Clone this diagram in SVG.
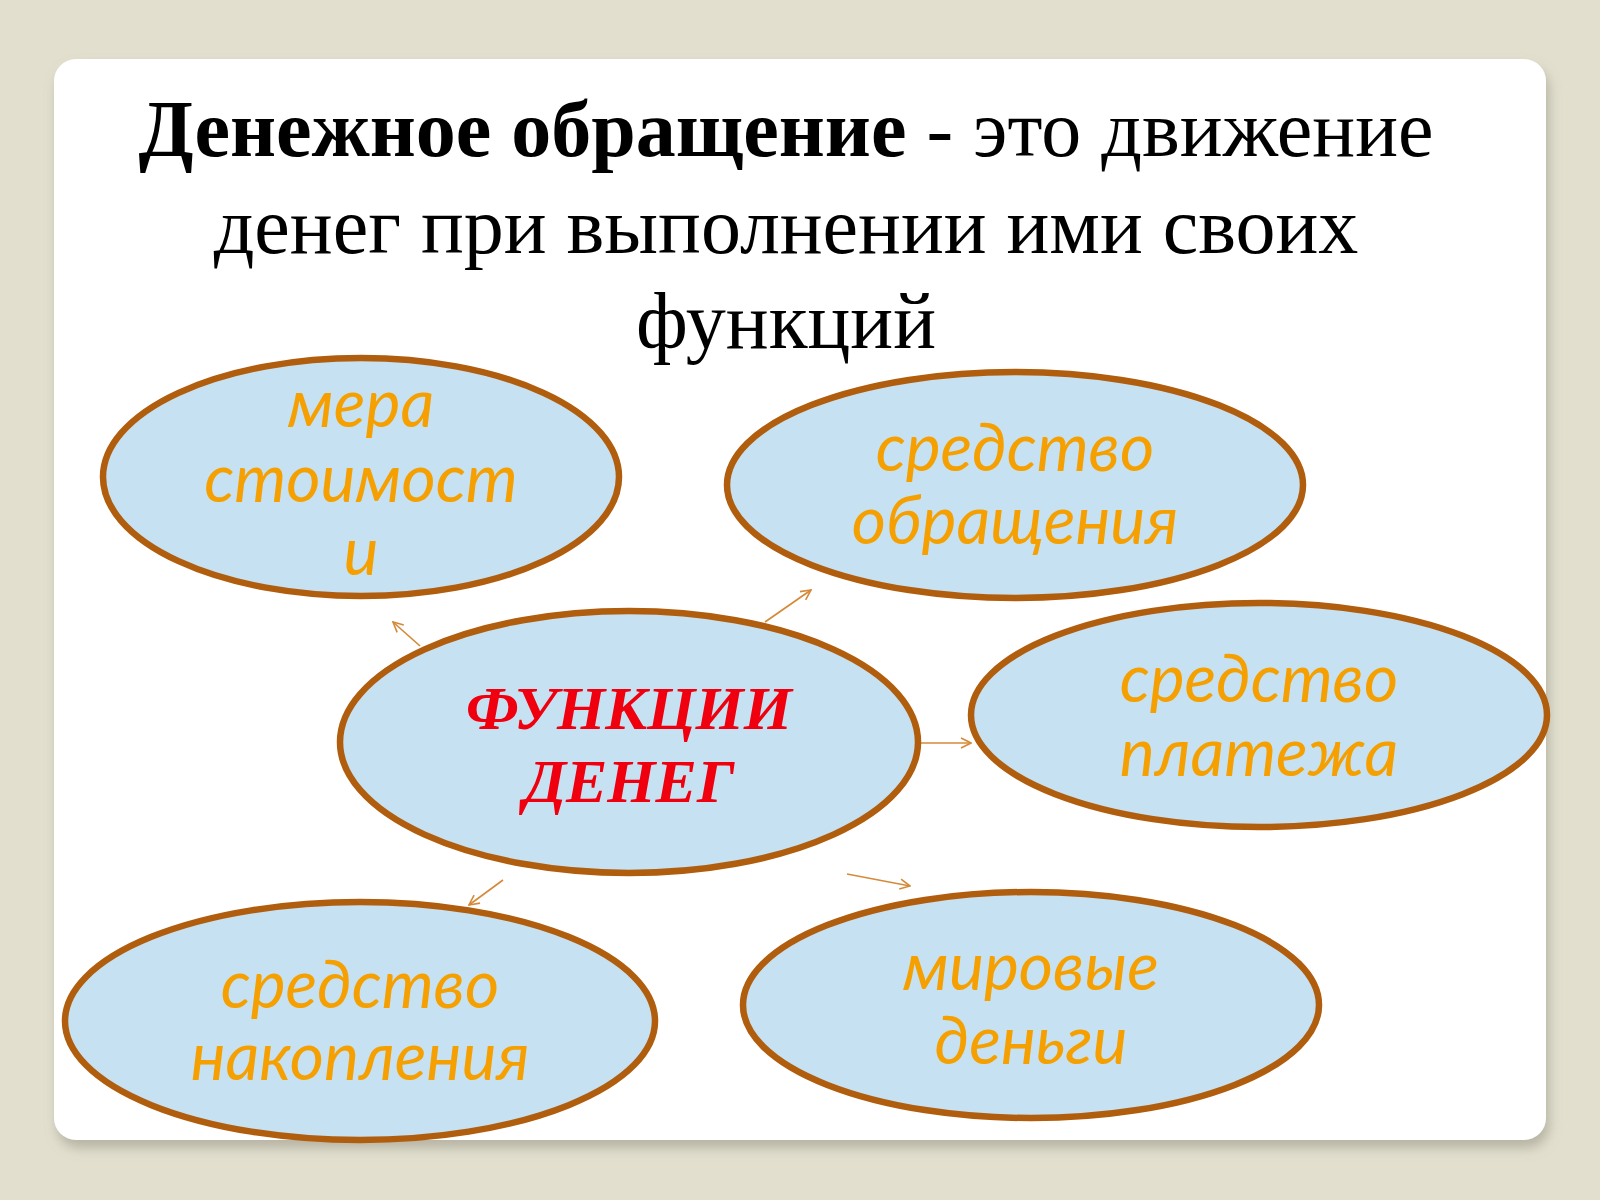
<svg xmlns="http://www.w3.org/2000/svg" width="1600" height="1200" viewBox="0 0 1600 1200">
<defs>
<filter id="sh" x="-5%" y="-5%" width="110%" height="115%">
<feDropShadow dx="3" dy="8" stdDeviation="6" flood-color="#8a8878" flood-opacity="0.5"/>
</filter>
<marker id="ah" viewBox="0 0 12 12" refX="11" refY="6" markerWidth="12" markerHeight="12" markerUnits="userSpaceOnUse" orient="auto">
<path d="M1,1 L11,6 L1,11" fill="none" stroke="#d58a3a" stroke-width="1.6"/>
</marker>
</defs>
<style>
.node ellipse{fill:#c5e1f2;stroke:#b05d0e;stroke-width:6.5}
.lbl{font-family:Lato,"Open Sans",sans-serif;font-style:italic;font-size:66px;fill:#f5a000;text-anchor:middle}
.title{font-family:"Liberation Serif",serif;font-size:80px;fill:#000;text-anchor:middle}
.conn line{stroke:#d58a3a;stroke-width:1.6;marker-end:url(#ah)}
.center{font-family:"Liberation Serif",serif;font-weight:bold;font-style:italic;font-size:62px;fill:#f0000f;text-anchor:middle}
</style>
<rect width="1600" height="1200" fill="#e2dfcf"/>
<rect x="54" y="59" width="1492" height="1081" rx="22" fill="#ffffff" filter="url(#sh)"/>
<g id="title">
<text class="title" x="786" y="156"><tspan font-weight="bold">Денежное обращение</tspan> - это движение</text>
<text class="title" x="786" y="253">денег при выполнении ими своих</text>
<text class="title" x="786" y="348">функций</text>
</g>
<g id="connectors" class="conn">
<line x1="420" y1="646" x2="393" y2="622"/>
<line x1="765" y1="622" x2="811" y2="590"/>
<line x1="918" y1="743" x2="971" y2="743"/>
<line x1="503" y1="880" x2="469" y2="905"/>
<line x1="847" y1="874" x2="910" y2="886"/>
</g>
<g id="node-mera" class="node">
<ellipse cx="361" cy="477" rx="258" ry="119"/>
<text class="lbl" x="361" y="427">мера</text>
<text class="lbl" x="361" y="502">стоимост</text>
<text class="lbl" x="361" y="575">и</text>
</g>
<g id="node-obrashcheniya" class="node">
<ellipse cx="1015" cy="485" rx="288" ry="113"/>
<text class="lbl" x="1015" y="471">средство</text>
<text class="lbl" x="1015" y="544">обращения</text>
</g>
<g id="node-platezha" class="node">
<ellipse cx="1259" cy="715" rx="288" ry="112"/>
<text class="lbl" x="1259" y="702">средство</text>
<text class="lbl" x="1259" y="776">платежа</text>
</g>
<g id="node-center" class="node">
<ellipse cx="629" cy="742" rx="289" ry="131"/>
<text class="center" x="629" y="729">ФУНКЦИИ</text>
<text class="center" x="629" y="802">ДЕНЕГ</text>
</g>
<g id="node-nakopleniya" class="node">
<ellipse cx="360" cy="1021" rx="295" ry="119"/>
<text class="lbl" x="360" y="1008">средство</text>
<text class="lbl" x="360" y="1080">накопления</text>
</g>
<g id="node-mirovye" class="node">
<ellipse cx="1031" cy="1005" rx="288" ry="113"/>
<text class="lbl" x="1031" y="990">мировые</text>
<text class="lbl" x="1031" y="1064">деньги</text>
</g>
</svg>
